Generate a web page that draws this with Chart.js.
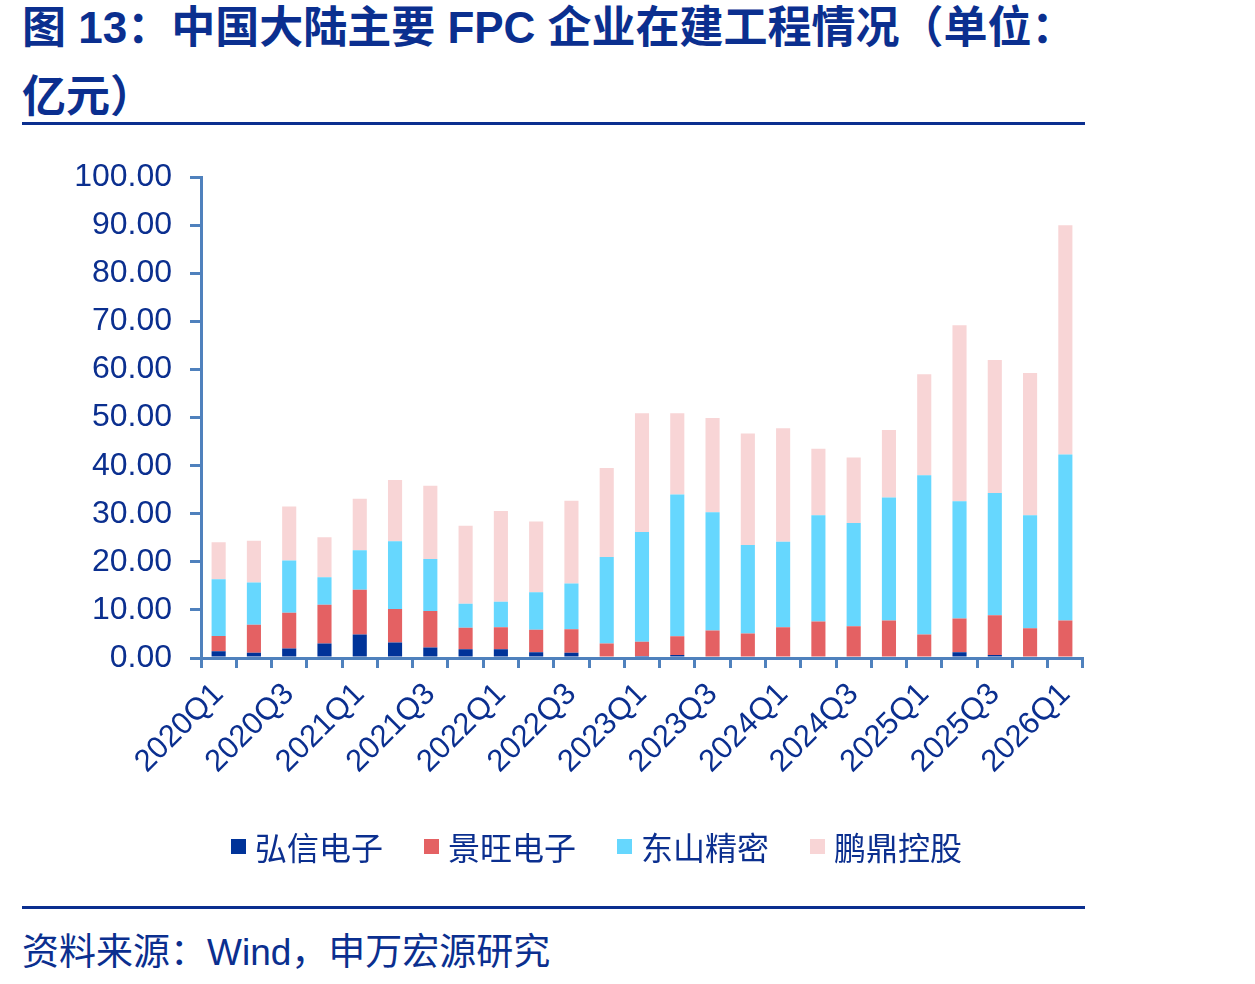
<!DOCTYPE html>
<html>
<head>
<meta charset="utf-8">
<script src="https://cdn.jsdelivr.net/npm/chart.js@4"></script>
<style>
  html, body { margin: 0; padding: 0; background: #fff; }
  body { width: 1255px; height: 984px; position: relative; overflow: hidden; font-family: "Liberation Sans", "Noto Sans CJK SC", sans-serif; }
  #title { position: absolute; left: 22px; top: -7px; width: 1150px; font-size: 44px; font-weight: bold; line-height: 69px; color: #0b2f8f; font-family: "Liberation Sans", "Noto Sans CJK SC", sans-serif; white-space: nowrap; }
  .rule { position: absolute; left: 22px; width: 1063px; height: 3px; background: #0b2f8f; }
  #chartbox { position: absolute; left: 0; top: 140px; width: 1100px; height: 700px; }
  #legend { position: absolute; left: 231px; top: 823px; display: flex; align-items: center; font-size: 32px; color: #0b2f8f; font-family: "Noto Sans CJK SC", sans-serif; }
  #legend .item { display: flex; align-items: center; margin-right: 41px; }
  #legend .sw { width: 15px; height: 15px; margin-right: 9px; }
  #source { position: absolute; left: 22px; top: 930px; font-size: 37px; line-height: 45px; color: #0b2f8f; font-family: "Liberation Sans", "Noto Sans CJK SC", sans-serif; }
</style>
</head>
<body>
<div id="title">图 13：中国大陆主要 FPC 企业在建工程情况（单位：<br>亿元）</div>
<div class="rule" style="top:122px"></div>
<div id="chartbox"><canvas id="c" width="1100" height="700"></canvas></div>
<div id="legend"></div>
<div class="rule" style="top:906px"></div>
<div id="source">资料来源：Wind，申万宏源研究</div>
<script>
const categories = ["2020Q1","2020Q2","2020Q3","2020Q4","2021Q1","2021Q2","2021Q3","2021Q4","2022Q1","2022Q2","2022Q3","2022Q4","2023Q1","2023Q2","2023Q3","2023Q4","2024Q1","2024Q2","2024Q3","2024Q4","2025Q1","2025Q2","2025Q3","2025Q4","2026Q1"];
const seriesNames = ["弘信电子","景旺电子","东山精密","鹏鼎控股"];
const hongxin   = [1.4,1.1,2.0,3.0,4.9,3.2,2.2,1.8,1.8,1.2,1.1,0.0,0.4,0.6,0.3,0.3,0.0,0.0,0.0,0.0,0.0,1.2,0.6,0.0,0.0];
const jingwang  = [3.2,5.8,7.4,8.1,9.3,7.0,7.6,4.5,4.6,4.7,4.9,3.0,3.0,3.9,5.4,4.8,6.4,7.6,6.6,7.8,4.9,7.0,8.3,6.2,7.8];
const dongshan  = [11.8,8.8,10.9,5.7,8.2,14.1,10.8,5.0,5.3,7.8,9.5,18.0,22.8,29.5,24.6,18.4,17.8,22.1,21.5,25.6,33.1,24.4,25.4,23.5,34.5];
const pengding  = [7.7,8.7,11.2,8.3,10.7,12.7,15.2,16.2,18.9,14.7,17.2,18.5,24.7,16.9,19.6,23.2,23.6,13.8,13.6,14.0,21.0,36.6,27.7,29.6,47.7];
const colors = ["#003399","#e46163","#66d7fe","#f8d5d6"];

const textColor = "#0b2f8f";
const axisColor = "#4f81bd";

const datasets = [hongxin, jingwang, dongshan, pengding].map((d, i) => ({
  label: seriesNames[i],
  data: d,
  backgroundColor: colors[i],
  borderWidth: 0,
  barPercentage: 0.4,
  categoryPercentage: 1.0
}));

// HTML legend
const lg = document.getElementById('legend');
seriesNames.forEach((n, i) => {
  const it = document.createElement('div'); it.className = 'item';
  const sw = document.createElement('div'); sw.className = 'sw'; sw.style.background = colors[i];
  const tx = document.createElement('span'); tx.textContent = n;
  it.appendChild(sw); it.appendChild(tx); lg.appendChild(it);
});

new Chart(document.getElementById('c'), {
  type: 'bar',
  data: { labels: categories, datasets },
  options: {
    responsive: false,
    animation: false,
    devicePixelRatio: 1,
    layout: { padding: { top: 34, right: 17, bottom: 52, left: 0 } },
    plugins: { legend: { display: false }, tooltip: { enabled: false } },
    scales: {
      x: {
        stacked: true,
        afterFit: s => { s.height = 130; },
        grid: { display: true, drawOnChartArea: false, drawTicks: true, tickLength: 10, color: axisColor, lineWidth: 3, offset: true },
        border: { display: true, color: axisColor, width: 3 },
        ticks: {
          autoSkip: false, maxRotation: 45, minRotation: 45, padding: 8,
          color: textColor,
          font: { family: "Liberation Sans", size: 31 },
          callback: function(v, i) { return i % 2 === 0 ? categories[i] : ''; }
        }
      },
      y: {
        stacked: true,
        min: 0, max: 100,
        afterFit: s => { s.width = 201; },
        grid: { display: true, drawOnChartArea: false, drawTicks: true, tickLength: 11, color: axisColor, lineWidth: 3 },
        border: { display: true, color: axisColor, width: 3 },
        ticks: {
          stepSize: 10, padding: 18, color: textColor,
          font: { family: "Liberation Sans", size: 32 },
          callback: v => Number(v).toFixed(2)
        }
      }
    }
  }
});
</script>
</body>
</html>
